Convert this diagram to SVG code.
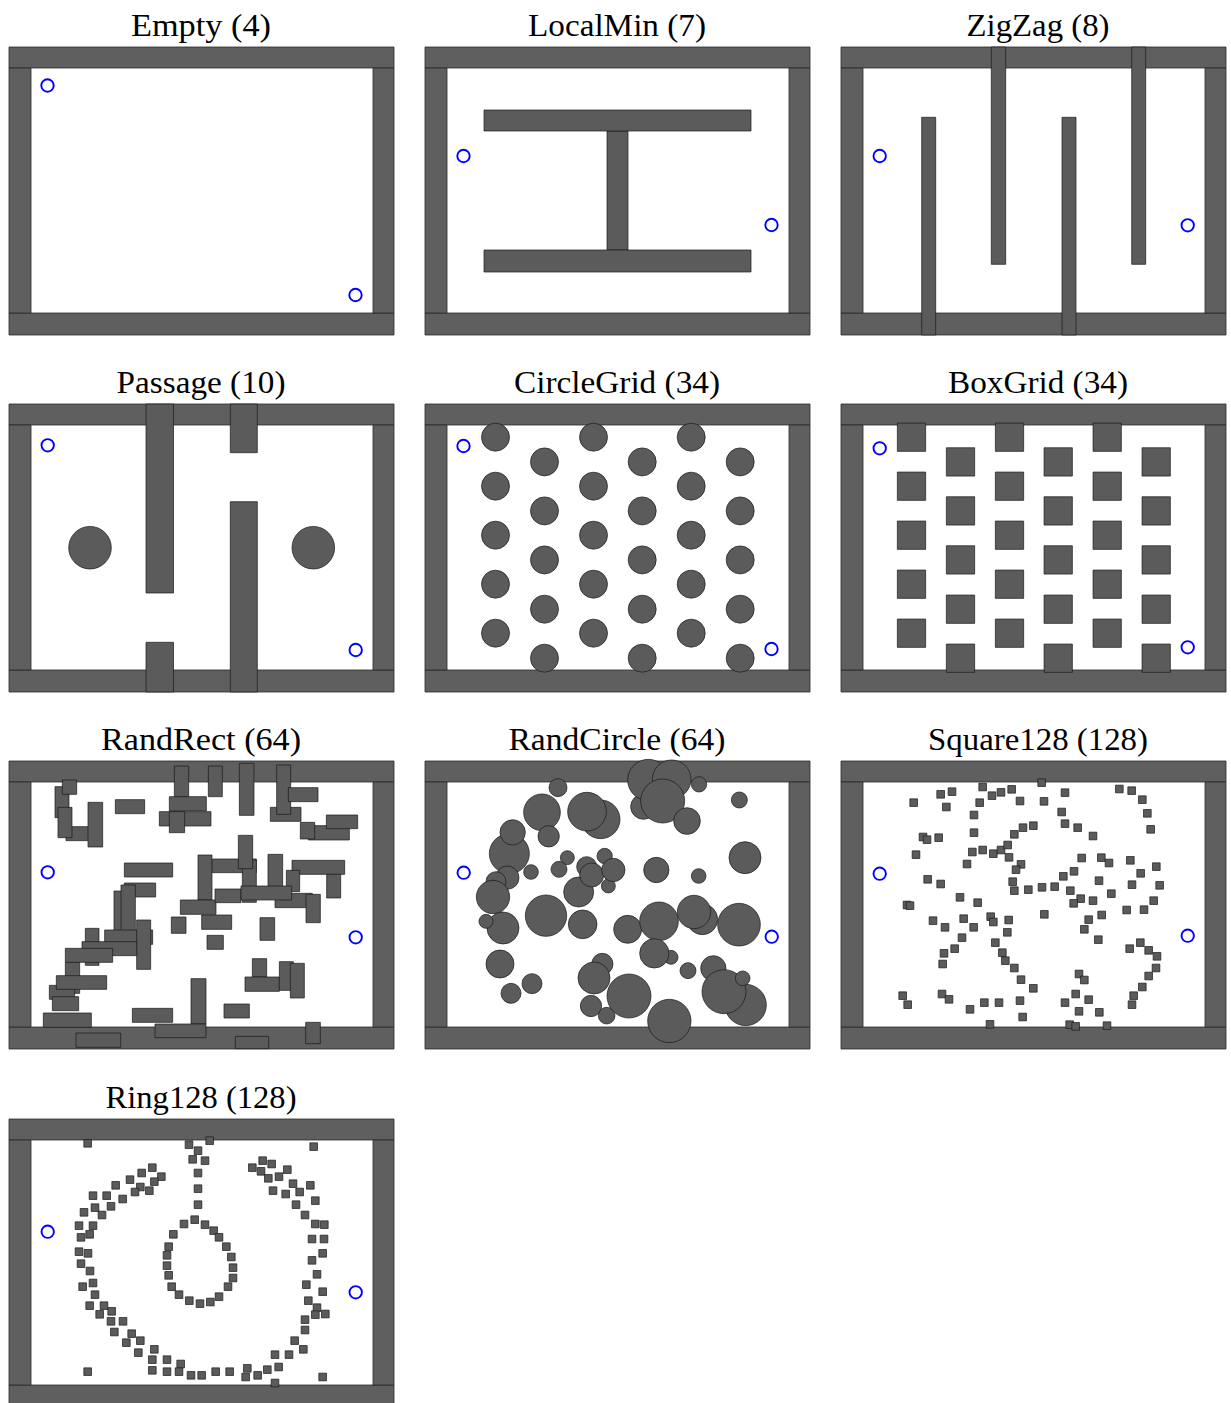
<svg xmlns="http://www.w3.org/2000/svg" xmlns:xlink="http://www.w3.org/1999/xlink" width="1231" height="1403" viewBox="0 0 1231 1403">
<style>
.w{fill:#5f5f5f;stroke:#2a2a2a;stroke-width:0.8px;vector-effect:non-scaling-stroke}
.o{fill:#5b5b5b;stroke:#1a1a1a;stroke-width:0.7px;vector-effect:non-scaling-stroke}
.g{fill:none;stroke:#0000ff;stroke-width:1.9px}
.t{font-family:"Liberation Serif","DejaVu Serif",serif;font-size:31px;fill:#000;text-anchor:middle}
</style>
<defs>
<g id="walls">
<rect class="w" x="0" y="0" width="385" height="21"/>
<rect class="w" x="0" y="266" width="385" height="22"/>
<rect class="w" x="0" y="21" width="22" height="245"/>
<rect class="w" x="364" y="21" width="21" height="245"/>
</g>
<rect id="sq" class="o" x="-11.5" y="-11.5" width="23" height="23"/>
<rect id="bx" class="o" x="-14.15" y="-14.15" width="28.3" height="28.3"/>
</defs>
<rect x="0" y="0" width="1231" height="1403" fill="#fff"/>

<g id="titles">
<text class="t" x="201" y="36" textLength="140" lengthAdjust="spacingAndGlyphs">Empty (4)</text>
<text class="t" x="617" y="36" textLength="178" lengthAdjust="spacingAndGlyphs">LocalMin (7)</text>
<text class="t" x="1038" y="36" textLength="143" lengthAdjust="spacingAndGlyphs">ZigZag (8)</text>
<text class="t" x="201" y="393" textLength="169" lengthAdjust="spacingAndGlyphs">Passage (10)</text>
<text class="t" x="617" y="393" textLength="206" lengthAdjust="spacingAndGlyphs">CircleGrid (34)</text>
<text class="t" x="1038" y="393" textLength="180" lengthAdjust="spacingAndGlyphs">BoxGrid (34)</text>
<text class="t" x="201" y="750" textLength="200" lengthAdjust="spacingAndGlyphs">RandRect (64)</text>
<text class="t" x="617" y="750" textLength="217" lengthAdjust="spacingAndGlyphs">RandCircle (64)</text>
<text class="t" x="1038" y="750" textLength="220" lengthAdjust="spacingAndGlyphs">Square128 (128)</text>
<text class="t" x="201" y="1108" textLength="191" lengthAdjust="spacingAndGlyphs">Ring128 (128)</text>
</g>

<g id="empty" transform="translate(9,47)">
<use href="#walls"/>
<circle class="g" cx="38.5" cy="38.5" r="6.2"/>
<circle class="g" cx="346.5" cy="248" r="6.2"/>
</g>

<g id="localmin" transform="translate(425,47)">
<use href="#walls"/>
<rect class="o" x="182" y="84" width="21" height="119"/>
<rect class="o" x="59" y="63" width="267" height="21"/>
<rect class="o" x="59" y="203" width="267" height="22"/>
<circle class="g" cx="38.5" cy="109" r="6.2"/>
<circle class="g" cx="346.5" cy="178" r="6.2"/>
</g>

<g id="zigzag" transform="translate(841,47)">
<use href="#walls"/>
<rect class="o" x="80.7" y="70.3" width="14" height="217.7"/>
<rect class="o" x="150.3" y="0" width="14.4" height="217.3"/>
<rect class="o" x="221" y="70.3" width="14" height="217.7"/>
<rect class="o" x="290.7" y="0" width="14" height="217.3"/>
<circle class="g" cx="38.7" cy="109" r="6.2"/>
<circle class="g" cx="346.7" cy="178.3" r="6.2"/>
</g>

<g id="passage" transform="translate(9,404)">
<use href="#walls"/>
<rect class="o" x="137" y="0" width="27.5" height="189"/>
<rect class="o" x="221.3" y="0" width="27" height="48.7"/>
<rect class="o" x="137" y="238.3" width="27.5" height="49.7"/>
<rect class="o" x="221.3" y="97.7" width="27" height="190.3"/>
<circle class="o" cx="81" cy="143.7" r="21.3"/>
<circle class="o" cx="304.3" cy="143.7" r="21.3"/>
<circle class="g" cx="38.7" cy="41.3" r="6.2"/>
<circle class="g" cx="346.7" cy="246" r="6.2"/>
</g>

<g id="circlegrid" transform="translate(425,404)">
<use href="#walls"/>
<g>
<circle class="o" cx="70.5" cy="33.2" r="14"/><circle class="o" cx="70.5" cy="82.2" r="14"/><circle class="o" cx="70.5" cy="131.2" r="14"/><circle class="o" cx="70.5" cy="180.2" r="14"/><circle class="o" cx="70.5" cy="229.2" r="14"/>
<circle class="o" cx="168.5" cy="33.2" r="14"/><circle class="o" cx="168.5" cy="82.2" r="14"/><circle class="o" cx="168.5" cy="131.2" r="14"/><circle class="o" cx="168.5" cy="180.2" r="14"/><circle class="o" cx="168.5" cy="229.2" r="14"/>
<circle class="o" cx="266.2" cy="33.2" r="14"/><circle class="o" cx="266.2" cy="82.2" r="14"/><circle class="o" cx="266.2" cy="131.2" r="14"/><circle class="o" cx="266.2" cy="180.2" r="14"/><circle class="o" cx="266.2" cy="229.2" r="14"/>
<circle class="o" cx="119.5" cy="57.9" r="14"/><circle class="o" cx="119.5" cy="106.9" r="14"/><circle class="o" cx="119.5" cy="155.9" r="14"/><circle class="o" cx="119.5" cy="205.2" r="14"/><circle class="o" cx="119.5" cy="254.2" r="14"/>
<circle class="o" cx="217.2" cy="57.9" r="14"/><circle class="o" cx="217.2" cy="106.9" r="14"/><circle class="o" cx="217.2" cy="155.9" r="14"/><circle class="o" cx="217.2" cy="205.2" r="14"/><circle class="o" cx="217.2" cy="254.2" r="14"/>
<circle class="o" cx="315.2" cy="57.9" r="14"/><circle class="o" cx="315.2" cy="106.9" r="14"/><circle class="o" cx="315.2" cy="155.9" r="14"/><circle class="o" cx="315.2" cy="205.2" r="14"/><circle class="o" cx="315.2" cy="254.2" r="14"/>
</g>
<circle class="g" cx="38.5" cy="42" r="6.2"/>
<circle class="g" cx="346.5" cy="245" r="6.2"/>
</g>

<g id="boxgrid" transform="translate(841,404)">
<use href="#walls"/>
<g>
<use href="#bx" x="70.5" y="33.2"/><use href="#bx" x="70.5" y="82.2"/><use href="#bx" x="70.5" y="131.2"/><use href="#bx" x="70.5" y="180.2"/><use href="#bx" x="70.5" y="229.2"/>
<use href="#bx" x="168.5" y="33.2"/><use href="#bx" x="168.5" y="82.2"/><use href="#bx" x="168.5" y="131.2"/><use href="#bx" x="168.5" y="180.2"/><use href="#bx" x="168.5" y="229.2"/>
<use href="#bx" x="266.2" y="33.2"/><use href="#bx" x="266.2" y="82.2"/><use href="#bx" x="266.2" y="131.2"/><use href="#bx" x="266.2" y="180.2"/><use href="#bx" x="266.2" y="229.2"/>
<use href="#bx" x="119.5" y="57.9"/><use href="#bx" x="119.5" y="106.9"/><use href="#bx" x="119.5" y="155.9"/><use href="#bx" x="119.5" y="205.2"/><use href="#bx" x="119.5" y="254.2"/>
<use href="#bx" x="217.2" y="57.9"/><use href="#bx" x="217.2" y="106.9"/><use href="#bx" x="217.2" y="155.9"/><use href="#bx" x="217.2" y="205.2"/><use href="#bx" x="217.2" y="254.2"/>
<use href="#bx" x="315.2" y="57.9"/><use href="#bx" x="315.2" y="106.9"/><use href="#bx" x="315.2" y="155.9"/><use href="#bx" x="315.2" y="205.2"/><use href="#bx" x="315.2" y="254.2"/>
</g>
<circle class="g" cx="38.7" cy="44.3" r="6.2"/>
<circle class="g" cx="346.7" cy="243.3" r="6.2"/>
</g>

<g id="randrect" transform="translate(9,761)">
<use href="#walls"/>
<g transform="translate(0,-1) scale(0.333333)">
<rect class="o" x="496" y="18" width="43" height="92"/>
<rect class="o" x="481" y="110" width="111" height="43"/>
<rect class="o" x="451" y="155" width="155" height="43"/>
<rect class="o" x="481" y="155" width="46" height="63"/>
<rect class="o" x="138" y="80" width="42" height="93"/>
<rect class="o" x="171" y="200" width="69" height="42"/>
<rect class="o" x="147" y="142" width="42" height="91"/>
<rect class="o" x="160" y="60" width="43" height="43"/>
<rect class="o" x="237" y="127" width="44" height="134"/>
<rect class="o" x="319" y="119" width="88" height="42"/>
<rect class="o" x="346" y="309" width="145" height="42"/>
<rect class="o" x="315" y="393" width="42" height="147"/>
<rect class="o" x="346" y="369" width="94" height="42"/>
<rect class="o" x="336" y="375" width="43" height="163"/>
<rect class="o" x="287" y="510" width="144" height="43"/>
<rect class="o" x="383" y="480" width="42" height="148"/>
<rect class="o" x="229" y="505" width="41" height="111"/>
<rect class="o" x="219" y="545" width="164" height="42"/>
<rect class="o" x="169" y="607" width="43" height="93"/>
<rect class="o" x="169" y="565" width="142" height="42"/>
<rect class="o" x="121" y="676" width="76" height="42"/>
<rect class="o" x="142" y="647" width="151" height="41"/>
<rect class="o" x="130" y="710" width="79" height="42"/>
<rect class="o" x="103" y="759" width="144" height="43"/>
<rect class="o" x="201" y="819" width="134" height="43"/>
<rect class="o" x="370" y="745" width="121" height="42"/>
<rect class="o" x="546" y="656" width="45" height="136"/>
<rect class="o" x="438" y="792" width="153" height="41"/>
<rect class="o" x="567" y="285" width="42" height="135"/>
<rect class="o" x="514" y="420" width="107" height="43"/>
<rect class="o" x="487" y="471" width="44" height="49"/>
<rect class="o" x="578" y="465" width="90" height="43"/>
</g>
<g transform="translate(190,-1) scale(0.333333)">
<rect class="o" x="28" y="18" width="42" height="92"/>
<rect class="o" x="121" y="10" width="44" height="156"/>
<rect class="o" x="214" y="142" width="92" height="42"/>
<rect class="o" x="233" y="15" width="42" height="148"/>
<rect class="o" x="268" y="83" width="89" height="42"/>
<rect class="o" x="328" y="197" width="123" height="43"/>
<rect class="o" x="304" y="187" width="43" height="50"/>
<rect class="o" x="382" y="165" width="94" height="41"/>
<rect class="o" x="40" y="297" width="132" height="41"/>
<rect class="o" x="130" y="300" width="42" height="127"/>
<rect class="o" x="118" y="226" width="43" height="100"/>
<rect class="o" x="207" y="283" width="44" height="107"/>
<rect class="o" x="279" y="301" width="158" height="42"/>
<rect class="o" x="262" y="331" width="40" height="64"/>
<rect class="o" x="383" y="343" width="42" height="71"/>
<rect class="o" x="48" y="387" width="78" height="41"/>
<rect class="o" x="228" y="400" width="112" height="43"/>
<rect class="o" x="126" y="378" width="152" height="42"/>
<rect class="o" x="321" y="403" width="43" height="85"/>
<rect class="o" x="183" y="473" width="44" height="68"/>
<rect class="o" x="24" y="526" width="49" height="42"/>
<rect class="o" x="160" y="596" width="43" height="55"/>
<rect class="o" x="138" y="651" width="103" height="43"/>
<rect class="o" x="241" y="605" width="42" height="86"/>
<rect class="o" x="274" y="610" width="42" height="104"/>
<rect class="o" x="75" y="732" width="76" height="42"/>
<rect class="o" x="109" y="829" width="100" height="37"/>
<rect class="o" x="320" y="787" width="44" height="64"/>
</g>
<circle class="g" cx="38.7" cy="111.3" r="6.2"/>
<circle class="g" cx="346.7" cy="176.3" r="6.2"/>
</g>

<g id="randcircle" transform="translate(425,761)">
<use href="#walls"/>
<g transform="translate(0,-1) scale(0.333333)">
<circle class="o" cx="399" cy="83" r="27"/>
<circle class="o" cx="351" cy="157" r="55"/>
<circle class="o" cx="527" cy="178" r="58"/>
<circle class="o" cx="486" cy="155" r="58"/>
<circle class="o" cx="371" cy="229" r="32"/>
<circle class="o" cx="253" cy="281" r="60"/>
<circle class="o" cx="263" cy="217" r="38"/>
<circle class="o" cx="318" cy="336" r="22"/>
<circle class="o" cx="247" cy="353" r="35"/>
<circle class="o" cx="213" cy="365" r="30"/>
<circle class="o" cx="204" cy="411" r="50"/>
<circle class="o" cx="234" cy="504" r="48"/>
<circle class="o" cx="183" cy="484" r="21"/>
<circle class="o" cx="363" cy="467" r="62"/>
<circle class="o" cx="473" cy="493" r="43"/>
<circle class="o" cx="461" cy="396" r="45"/>
<circle class="o" cx="427" cy="293" r="21"/>
<circle class="o" cx="402" cy="328" r="24"/>
<circle class="o" cx="485" cy="320" r="30"/>
<circle class="o" cx="500" cy="345" r="36"/>
<circle class="o" cx="539" cy="288" r="23"/>
<circle class="o" cx="550" cy="378" r="21"/>
<circle class="o" cx="565" cy="330" r="35"/>
<circle class="o" cx="225" cy="612" r="42"/>
<circle class="o" cx="321" cy="671" r="30"/>
<circle class="o" cx="258" cy="700" r="30"/>
<circle class="o" cx="532" cy="612" r="32"/>
<circle class="o" cx="507" cy="654" r="48"/>
<circle class="o" cx="498" cy="738" r="32"/>
<circle class="o" cx="545" cy="767" r="25"/>
</g>
<g transform="translate(190,-1) scale(0.333333)">
<circle class="o" cx="85" cy="140" r="38"/>
<circle class="o" cx="100" cy="60" r="62"/>
<circle class="o" cx="170" cy="58" r="58"/>
<circle class="o" cx="143" cy="123" r="66"/>
<circle class="o" cx="216" cy="183" r="40"/>
<circle class="o" cx="252" cy="73" r="23"/>
<circle class="o" cx="373" cy="120" r="24"/>
<circle class="o" cx="390" cy="293" r="48"/>
<circle class="o" cx="124" cy="330" r="38"/>
<circle class="o" cx="251" cy="348" r="22"/>
<circle class="o" cx="38" cy="508" r="42"/>
<circle class="o" cx="132" cy="484" r="58"/>
<circle class="o" cx="262" cy="478" r="46"/>
<circle class="o" cx="237" cy="456" r="50"/>
<circle class="o" cx="372" cy="494" r="64"/>
<circle class="o" cx="168" cy="592" r="21"/>
<circle class="o" cx="118" cy="580" r="44"/>
<circle class="o" cx="219" cy="632" r="24"/>
<circle class="o" cx="295" cy="625" r="38"/>
<circle class="o" cx="392" cy="735" r="62"/>
<circle class="o" cx="327" cy="695" r="66"/>
<circle class="o" cx="383" cy="655" r="22"/>
<circle class="o" cx="42" cy="708" r="66"/>
<circle class="o" cx="163" cy="783" r="65"/>
</g>
<circle class="g" cx="38.7" cy="111.7" r="6.2"/>
<circle class="g" cx="346.7" cy="175.7" r="6.2"/>
</g>

<g id="square128" transform="translate(841,761)">
<use href="#walls"/>
<g transform="translate(0,-1) scale(0.333333)">
<use href="#sq" x="218" y="128"/><use href="#sq" x="299" y="103"/><use href="#sq" x="333" y="95"/><use href="#sq" x="425" y="81"/><use href="#sq" x="453" y="107"/><use href="#sq" x="480" y="97"/><use href="#sq" x="512" y="88"/><use href="#sq" x="537" y="123"/><use href="#sq" x="416" y="128"/><use href="#sq" x="316" y="141"/><use href="#sq" x="399" y="165"/><use href="#sq" x="246" y="231"/><use href="#sq" x="258" y="239"/><use href="#sq" x="293" y="233"/><use href="#sq" x="399" y="218"/><use href="#sq" x="225" y="284"/><use href="#sq" x="394" y="276"/><use href="#sq" x="425" y="270"/><use href="#sq" x="457" y="281"/><use href="#sq" x="480" y="270"/><use href="#sq" x="500" y="255"/><use href="#sq" x="504" y="292"/><use href="#sq" x="520" y="223"/><use href="#sq" x="546" y="203"/><use href="#sq" x="577" y="197"/><use href="#sq" x="540" y="313"/><use href="#sq" x="525" y="329"/><use href="#sq" x="378" y="312"/><use href="#sq" x="260" y="358"/><use href="#sq" x="299" y="372"/><use href="#sq" x="515" y="365"/><use href="#sq" x="520" y="392"/><use href="#sq" x="562" y="389"/><use href="#sq" x="357" y="412"/><use href="#sq" x="410" y="428"/><use href="#sq" x="198" y="435"/><use href="#sq" x="207" y="437"/><use href="#sq" x="276" y="482"/><use href="#sq" x="312" y="502"/><use href="#sq" x="368" y="476"/><use href="#sq" x="398" y="502"/><use href="#sq" x="449" y="470"/><use href="#sq" x="457" y="486"/><use href="#sq" x="503" y="480"/><use href="#sq" x="499" y="517"/><use href="#sq" x="363" y="533"/><use href="#sq" x="341" y="566"/><use href="#sq" x="463" y="548"/><use href="#sq" x="484" y="578"/><use href="#sq" x="493" y="602"/><use href="#sq" x="520" y="624"/><use href="#sq" x="309" y="580"/><use href="#sq" x="305" y="612"/><use href="#sq" x="540" y="659"/><use href="#sq" x="577" y="685"/><use href="#sq" x="185" y="707"/><use href="#sq" x="200" y="734"/><use href="#sq" x="303" y="702"/><use href="#sq" x="324" y="718"/><use href="#sq" x="430" y="728"/><use href="#sq" x="474" y="728"/><use href="#sq" x="537" y="722"/><use href="#sq" x="387" y="748"/><use href="#sq" x="545" y="771"/><use href="#sq" x="447" y="793"/>
</g>
<g transform="translate(190,-1) scale(0.333333)">
<use href="#sq" x="32" y="68"/><use href="#sq" x="102" y="98"/><use href="#sq" x="39" y="124"/><use href="#sq" x="92" y="156"/><use href="#sq" x="102" y="191"/><use href="#sq" x="140" y="203"/><use href="#sq" x="186" y="228"/><use href="#sq" x="265" y="87"/><use href="#sq" x="302" y="92"/><use href="#sq" x="334" y="119"/><use href="#sq" x="349" y="160"/><use href="#sq" x="359" y="208"/><use href="#sq" x="152" y="294"/><use href="#sq" x="211" y="293"/><use href="#sq" x="234" y="309"/><use href="#sq" x="298" y="301"/><use href="#sq" x="376" y="320"/><use href="#sq" x="129" y="334"/><use href="#sq" x="97" y="349"/><use href="#sq" x="329" y="340"/><use href="#sq" x="303" y="374"/><use href="#sq" x="386" y="376"/><use href="#sq" x="204" y="362"/><use href="#sq" x="33" y="382"/><use href="#sq" x="71" y="380"/><use href="#sq" x="118" y="392"/><use href="#sq" x="149" y="416"/><use href="#sq" x="128" y="430"/><use href="#sq" x="186" y="422"/><use href="#sq" x="241" y="401"/><use href="#sq" x="368" y="422"/><use href="#sq" x="40" y="463"/><use href="#sq" x="212" y="465"/><use href="#sq" x="173" y="479"/><use href="#sq" x="160" y="508"/><use href="#sq" x="287" y="450"/><use href="#sq" x="339" y="449"/><use href="#sq" x="202" y="539"/><use href="#sq" x="296" y="566"/><use href="#sq" x="328" y="548"/><use href="#sq" x="353" y="571"/><use href="#sq" x="378" y="589"/><use href="#sq" x="375" y="624"/><use href="#sq" x="353" y="648"/><use href="#sq" x="334" y="681"/><use href="#sq" x="308" y="707"/><use href="#sq" x="303" y="734"/><use href="#sq" x="144" y="642"/><use href="#sq" x="160" y="660"/><use href="#sq" x="134" y="702"/><use href="#sq" x="173" y="719"/><use href="#sq" x="102" y="728"/><use href="#sq" x="144" y="754"/><use href="#sq" x="205" y="757"/><use href="#sq" x="116" y="794"/><use href="#sq" x="134" y="799"/><use href="#sq" x="228" y="797"/>
</g>
<circle class="g" cx="38.7" cy="112.7" r="6.2"/>
<circle class="g" cx="346.7" cy="174.7" r="6.2"/>
</g>

<g id="ring128" transform="translate(9,1119)">
<use href="#walls"/>
<g transform="translate(0,-1) scale(0.333333)">
<use href="#sq" x="236" y="76"/><use href="#sq" x="540" y="80"/><use href="#sq" x="567" y="98"/><use href="#sq" x="551" y="124"/><use href="#sq" x="430" y="149"/><use href="#sq" x="398" y="165"/><use href="#sq" x="457" y="176"/><use href="#sq" x="436" y="191"/><use href="#sq" x="363" y="185"/><use href="#sq" x="320" y="202"/><use href="#sq" x="394" y="207"/><use href="#sq" x="421" y="218"/><use href="#sq" x="378" y="222"/><use href="#sq" x="567" y="165"/><use href="#sq" x="567" y="212"/><use href="#sq" x="252" y="233"/><use href="#sq" x="293" y="233"/><use href="#sq" x="341" y="243"/><use href="#sq" x="258" y="269"/><use href="#sq" x="306" y="265"/><use href="#sq" x="279" y="291"/><use href="#sq" x="225" y="283"/><use href="#sq" x="567" y="260"/><use href="#sq" x="557" y="305"/><use href="#sq" x="525" y="318"/><use href="#sq" x="210" y="323"/><use href="#sq" x="252" y="323"/><use href="#sq" x="493" y="349"/><use href="#sq" x="216" y="358"/><use href="#sq" x="242" y="349"/><use href="#sq" x="479" y="386"/><use href="#sq" x="210" y="401"/><use href="#sq" x="237" y="406"/><use href="#sq" x="474" y="412"/><use href="#sq" x="474" y="443"/><use href="#sq" x="216" y="437"/><use href="#sq" x="243" y="459"/><use href="#sq" x="479" y="472"/><use href="#sq" x="252" y="495"/><use href="#sq" x="221" y="506"/><use href="#sq" x="488" y="506"/><use href="#sq" x="258" y="530"/><use href="#sq" x="510" y="530"/><use href="#sq" x="242" y="563"/><use href="#sq" x="285" y="563"/><use href="#sq" x="541" y="548"/><use href="#sq" x="573" y="557"/><use href="#sq" x="272" y="589"/><use href="#sq" x="308" y="580"/><use href="#sq" x="306" y="610"/><use href="#sq" x="342" y="610"/><use href="#sq" x="316" y="642"/><use href="#sq" x="368" y="647"/><use href="#sq" x="352" y="674"/><use href="#sq" x="394" y="668"/><use href="#sq" x="388" y="704"/><use href="#sq" x="436" y="694"/><use href="#sq" x="430" y="725"/><use href="#sq" x="474" y="725"/><use href="#sq" x="515" y="738"/><use href="#sq" x="236" y="761"/><use href="#sq" x="430" y="757"/><use href="#sq" x="474" y="761"/><use href="#sq" x="510" y="761"/><use href="#sq" x="546" y="772"/><use href="#sq" x="578" y="772"/>
</g>
<g transform="translate(190,-1) scale(0.333333)">
<use href="#sq" x="32" y="68"/><use href="#sq" x="344" y="86"/><use href="#sq" x="18" y="128"/><use href="#sq" x="191" y="128"/><use href="#sq" x="218" y="138"/><use href="#sq" x="160" y="149"/><use href="#sq" x="186" y="160"/><use href="#sq" x="208" y="181"/><use href="#sq" x="240" y="176"/><use href="#sq" x="265" y="155"/><use href="#sq" x="282" y="197"/><use href="#sq" x="222" y="218"/><use href="#sq" x="260" y="228"/><use href="#sq" x="302" y="222"/><use href="#sq" x="334" y="202"/><use href="#sq" x="349" y="248"/><use href="#sq" x="291" y="260"/><use href="#sq" x="318" y="291"/><use href="#sq" x="349" y="318"/><use href="#sq" x="376" y="320"/><use href="#sq" x="339" y="363"/><use href="#sq" x="375" y="363"/><use href="#sq" x="371" y="406"/><use href="#sq" x="339" y="427"/><use href="#sq" x="354" y="469"/><use href="#sq" x="322" y="500"/><use href="#sq" x="371" y="521"/><use href="#sq" x="328" y="548"/><use href="#sq" x="354" y="569"/><use href="#sq" x="349" y="590"/><use href="#sq" x="379" y="588"/><use href="#sq" x="318" y="605"/><use href="#sq" x="318" y="636"/><use href="#sq" x="287" y="668"/><use href="#sq" x="313" y="694"/><use href="#sq" x="228" y="710"/><use href="#sq" x="270" y="710"/><use href="#sq" x="239" y="747"/><use href="#sq" x="205" y="755"/><use href="#sq" x="145" y="751"/><use href="#sq" x="140" y="777"/><use href="#sq" x="176" y="772"/><use href="#sq" x="92" y="761"/><use href="#sq" x="50" y="761"/><use href="#sq" x="228" y="795"/><use href="#sq" x="371" y="777"/><use href="#sq" x="18" y="320"/><use href="#sq" x="44" y="338"/><use href="#sq" x="60" y="358"/><use href="#sq" x="82" y="386"/><use href="#sq" x="97" y="417"/><use href="#sq" x="102" y="449"/><use href="#sq" x="102" y="480"/><use href="#sq" x="87" y="506"/><use href="#sq" x="60" y="536"/><use href="#sq" x="34" y="552"/>
</g>
<circle class="g" cx="38.7" cy="112.7" r="6.2"/>
<circle class="g" cx="346.7" cy="173.3" r="6.2"/>
</g>
</svg>
